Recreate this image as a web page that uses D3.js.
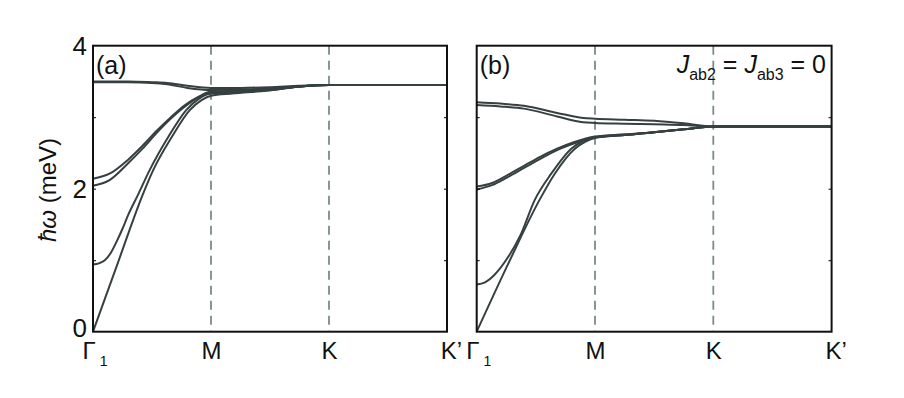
<!DOCTYPE html>
<html>
<head>
<meta charset="UTF-8">
<script src="https://d3js.org/d3.v7.min.js"></script>
<style>
  body { margin: 0; background: #fff; font-family: "Liberation Sans", Arial, sans-serif; }
  svg text { font-family: "Liberation Sans", Arial, sans-serif; }
</style>
</head>
<body>
<svg width="904" height="398"></svg>
<script>
// path points Γ1 - M - K - K'  (k = 0..3)
const kLabels = ["Γ", "M", "K", "K’"];
const yTickLabels = [0, 2, 4];

// panel (a) bands, [k, energy meV]
const aTop1 = [[0,3.50],[0.3,3.50],[0.5,3.49],[0.63,3.48],[0.8,3.44],[1,3.41],[1.25,3.41],[1.5,3.42],[1.75,3.44],[2,3.45],[3,3.45]];
const aTop2 = [[0,3.49],[0.3,3.49],[0.5,3.48],[0.63,3.46],[0.8,3.41],[1,3.38],[1.25,3.39],[1.5,3.40],[1.75,3.43],[2,3.45],[3,3.45]];
const aMid1 = [[0,2.14],[0.14,2.21],[0.3,2.41],[0.42,2.60],[0.54,2.81],[0.66,3.00],[0.78,3.17],[0.9,3.29],[1,3.36],[1.25,3.37],[1.5,3.39],[1.75,3.43],[2,3.45],[3,3.45]];
const aMid2 = [[0,2.04],[0.14,2.12],[0.3,2.36],[0.42,2.56],[0.54,2.78],[0.66,2.98],[0.78,3.15],[0.9,3.28],[1,3.34],[1.25,3.36],[1.5,3.38],[1.75,3.43],[2,3.45],[3,3.45]];
const aLow1 = [[0,0.94],[0.05,0.955],[0.1,1.0],[0.15,1.1],[0.2,1.26],[0.25,1.44],[0.3,1.64],[0.38,1.91],[0.48,2.26],[0.64,2.73],[0.79,3.10],[0.9,3.26],[1,3.33],[1.18,3.34],[1.47,3.38],[1.76,3.43],[2,3.45],[3,3.45]];
const aLow2 = [[0,0],[0.21,0.96],[0.42,1.91],[0.51,2.26],[0.67,2.73],[0.82,3.10],[0.92,3.24],[1,3.30],[1.18,3.33],[1.47,3.37],[1.76,3.43],[2,3.45],[3,3.45]];

// panel (b) bands, Jab2 = Jab3 = 0
const bTop1 = [[0,3.21],[0.2,3.19],[0.4,3.16],[0.68,3.06],[0.9,2.99],[1,2.98],[1.25,2.965],[1.5,2.95],[1.75,2.915],[2,2.87],[3,2.87]];
const bTop2 = [[0,3.17],[0.2,3.15],[0.4,3.12],[0.68,3.01],[0.9,2.93],[1,2.92],[1.25,2.91],[1.5,2.90],[1.75,2.89],[2,2.87],[3,2.87]];
const bMid1 = [[0,2.03],[0.13,2.08],[0.26,2.19],[0.4,2.32],[0.54,2.45],[0.68,2.56],[0.82,2.65],[1,2.73],[1.25,2.76],[1.5,2.79],[1.75,2.83],[2,2.87],[3,2.87]];
const bMid2 = [[0,1.99],[0.13,2.05],[0.26,2.16],[0.4,2.29],[0.54,2.42],[0.68,2.54],[0.82,2.63],[1,2.72],[1.25,2.75],[1.5,2.79],[1.75,2.83],[2,2.87],[3,2.87]];
const bLow1 = [[0,0.66],[0.07,0.69],[0.147,0.79],[0.26,1.03],[0.37,1.35],[0.49,1.84],[0.63,2.21],[0.80,2.56],[0.9,2.67],[1,2.72],[1.25,2.75],[1.5,2.79],[1.75,2.83],[2,2.87],[3,2.87]];
const bLow2 = [[0,0],[0.275,0.98],[0.53,1.84],[0.66,2.21],[0.83,2.56],[0.92,2.66],[1,2.71],[1.25,2.75],[1.5,2.79],[1.75,2.83],[2,2.87],[3,2.87]];

const panels = [
  { left: 93, right: 447, tag: "(a)", bands: [aTop1, aTop2, aMid1, aMid2, aLow1, aLow2] },
  { left: 476.7, right: 831.6, tag: "(b)", bands: [bTop1, bTop2, bMid1, bMid2, bLow1, bLow2] }
];

const svg = d3.select("svg");
const yTop = 45.7, yBottom = 331.7;
const y = d3.scaleLinear().domain([0, 4]).range([yBottom, yTop]);

panels.forEach((p, i) => {
  const x = d3.scaleLinear().domain([0, 3]).range([p.left, p.right]);
  const g = svg.append("g");

  // dashed lines at M and K
  g.selectAll(".vline").data([1, 2]).enter().append("line")
    .attr("x1", d => x(d)).attr("x2", d => x(d))
    .attr("y1", yTop).attr("y2", yBottom)
    .attr("stroke", "#7d8b8b").attr("stroke-width", 1.8)
    .attr("stroke-dasharray", "9,6");

  // bands
  const line = d3.line().x(d => x(d[0])).y(d => y(d[1])).curve(d3.curveMonotoneX);
  g.selectAll(".band").data(p.bands).enter().append("path")
    .attr("d", line)
    .attr("fill", "none")
    .attr("stroke", "#364040")
    .attr("stroke-width", 2);

  // inner ticks left and right
  g.append("g").attr("transform", `translate(${p.left},0)`)
    .call(d3.axisRight(y).tickValues([1, 2, 3]).tickSize(3).tickFormat(""))
    .call(a => a.select(".domain").remove());
  g.append("g").attr("transform", `translate(${p.right},0)`)
    .call(d3.axisLeft(y).tickValues([1, 2, 3]).tickSize(3).tickFormat(""))
    .call(a => a.select(".domain").remove());

  // frame
  g.append("rect")
    .attr("x", p.left).attr("y", yTop)
    .attr("width", p.right - p.left).attr("height", yBottom - yTop)
    .attr("fill", "none").attr("stroke", "#111").attr("stroke-width", 2);

  // x labels
  const xa = g.append("g").attr("transform", `translate(0,${yBottom})`)
    .call(d3.axisBottom(x).tickValues([0, 1, 2, 3]).tickSize(0).tickPadding(10)
      .tickFormat((d, j) => kLabels[j]));
  xa.select(".domain").remove();
  xa.selectAll("text").attr("font-size", 24).attr("fill", "#111")
    .attr("font-family", "Liberation Sans, Arial, sans-serif");
  xa.selectAll("text").filter(d => d === 0)
    .attr("x", -11).style("text-anchor", "start")
    .append("tspan").attr("font-size", 14).attr("dx", 4).attr("dy", 7).text("1");
  xa.selectAll("text").filter(d => d === 3).attr("x", 4);

  // y labels on panel (a) only
  if (i === 0) {
    const ya = g.append("g").attr("transform", `translate(${p.left},0)`)
      .call(d3.axisLeft(y).tickValues(yTickLabels).tickSize(0).tickPadding(6).tickFormat(d3.format("d")));
    ya.select(".domain").remove();
    ya.selectAll("text").attr("font-size", 26).attr("fill", "#111")
      .attr("font-family", "Liberation Sans, Arial, sans-serif");
    ya.selectAll("text").filter(d => d === 0).attr("y", -4);
  }

  // panel tag
  g.append("text").attr("x", p.left + 3).attr("y", yTop + 28)
    .attr("font-size", 25).attr("fill", "#111").text(p.tag);
});

// exchange condition label for (b)
const jl = svg.append("text").attr("x", 826).attr("y", 73)
  .attr("text-anchor", "end").attr("font-size", 25).attr("fill", "#111");
jl.append("tspan").attr("font-style", "italic").text("J");
jl.append("tspan").attr("font-size", 16).attr("dy", 7).text("ab2");
jl.append("tspan").attr("dy", -7).text(" = ");
jl.append("tspan").attr("font-style", "italic").text("J");
jl.append("tspan").attr("font-size", 16).attr("dy", 7).text("ab3");
jl.append("tspan").attr("dy", -7).text(" = 0");

// y axis title
const yt = svg.append("text")
  .attr("transform", "translate(56,190) rotate(-90)")
  .attr("text-anchor", "middle").attr("font-size", 24).attr("fill", "#111");
yt.append("tspan").attr("font-style", "italic").text("ħω");
yt.append("tspan").text(" (meV)");
</script>
</body>
</html>
